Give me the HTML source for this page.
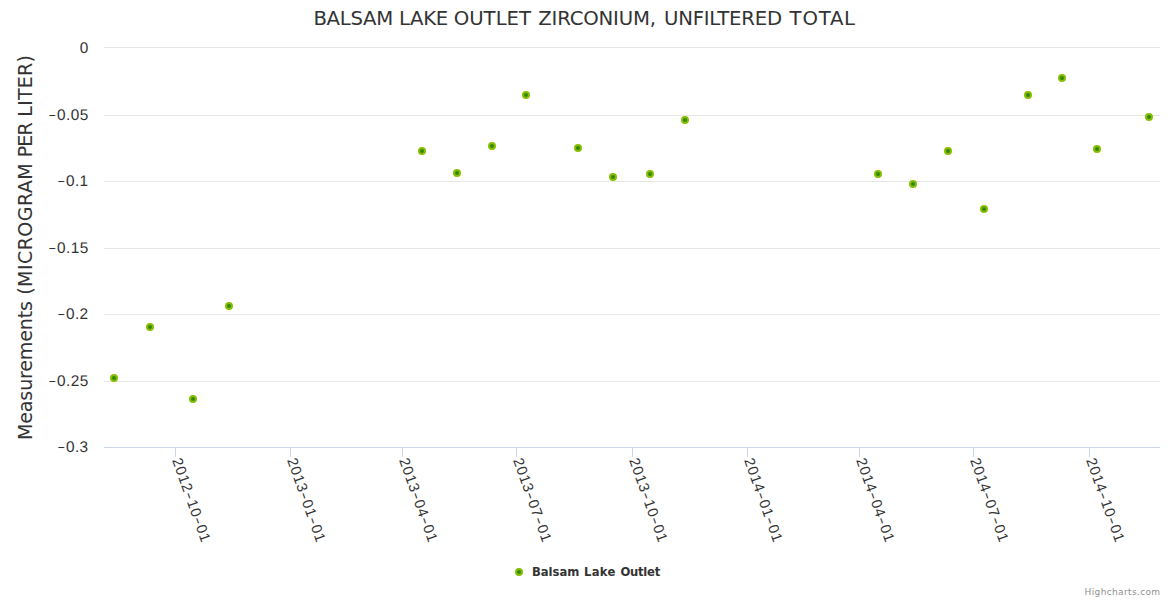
<!DOCTYPE html><html><head><meta charset="utf-8"><title>Balsam Lake Outlet Zirconium, Unfiltered Total</title><style>html,body{margin:0;padding:0;background:#fff;overflow:hidden}svg{display:block}</style></head><body>
<svg width="1170" height="600" viewBox="0 0 1170 600">
<rect x="0" y="0" width="1170" height="600" fill="#ffffff"/>
<g fill="none" stroke-width="1">
<path d="M104 47.5H1160" stroke="#e6e6e6"/>
<path d="M104 115.5H1160" stroke="#e6e6e6"/>
<path d="M104 181.5H1160" stroke="#e6e6e6"/>
<path d="M104 248.5H1160" stroke="#e6e6e6"/>
<path d="M104 314.5H1160" stroke="#e6e6e6"/>
<path d="M104 381.5H1160" stroke="#e6e6e6"/>
<path d="M104 447.5H1160" stroke="#ccd6eb"/>
<path d="M175.5 447V457" stroke="#ccd6eb"/>
<path d="M290.5 447V457" stroke="#ccd6eb"/>
<path d="M402.5 447V457" stroke="#ccd6eb"/>
<path d="M516.5 447V457" stroke="#ccd6eb"/>
<path d="M632.5 447V457" stroke="#ccd6eb"/>
<path d="M747.5 447V457" stroke="#ccd6eb"/>
<path d="M859.5 447V457" stroke="#ccd6eb"/>
<path d="M973.5 447V457" stroke="#ccd6eb"/>
<path d="M1089.5 447V457" stroke="#ccd6eb"/>
</g>
<text y="25" font-family='"DejaVu Sans", sans-serif' font-size="19.7" fill="#333333"><tspan x="313.4" textLength="79.77" lengthAdjust="spacing">BALSAM</tspan> <tspan x="398.9" textLength="49.35" lengthAdjust="spacing">LAKE</tspan> <tspan x="453.7" textLength="77.38" lengthAdjust="spacing">OUTLET</tspan> <tspan x="538.2" textLength="117.84" lengthAdjust="spacing">ZIRCONIUM,</tspan> <tspan x="664.0" textLength="118.08" lengthAdjust="spacing">UNFILTERED</tspan> <tspan x="789.6" textLength="65.47" lengthAdjust="spacing">TOTAL</tspan></text>
<text x="88.6" y="52.9" text-anchor="end" text-rendering="geometricPrecision" font-family='"Liberation Sans", sans-serif' font-size="15.4" letter-spacing="0.4" fill="#333333">0</text>
<text x="88.6" y="120" text-anchor="end" text-rendering="geometricPrecision" font-family='"Liberation Sans", sans-serif' font-size="15.4" letter-spacing="0.4" fill="#333333"><tspan font-size="13" dy="-1" textLength="8.8" lengthAdjust="spacingAndGlyphs">-</tspan><tspan dy="1">0.05</tspan></text>
<text x="88.6" y="186" text-anchor="end" text-rendering="geometricPrecision" font-family='"Liberation Sans", sans-serif' font-size="15.4" letter-spacing="0.4" fill="#333333"><tspan font-size="13" dy="-1" textLength="8.8" lengthAdjust="spacingAndGlyphs">-</tspan><tspan dy="1">0.1</tspan></text>
<text x="88.6" y="253" text-anchor="end" text-rendering="geometricPrecision" font-family='"Liberation Sans", sans-serif' font-size="15.4" letter-spacing="0.4" fill="#333333"><tspan font-size="13" dy="-1" textLength="8.8" lengthAdjust="spacingAndGlyphs">-</tspan><tspan dy="1">0.15</tspan></text>
<text x="88.6" y="319" text-anchor="end" text-rendering="geometricPrecision" font-family='"Liberation Sans", sans-serif' font-size="15.4" letter-spacing="0.4" fill="#333333"><tspan font-size="13" dy="-1" textLength="8.8" lengthAdjust="spacingAndGlyphs">-</tspan><tspan dy="1">0.2</tspan></text>
<text x="88.6" y="386" text-anchor="end" text-rendering="geometricPrecision" font-family='"Liberation Sans", sans-serif' font-size="15.4" letter-spacing="0.4" fill="#333333"><tspan font-size="13" dy="-1" textLength="8.8" lengthAdjust="spacingAndGlyphs">-</tspan><tspan dy="1">0.25</tspan></text>
<text x="88.6" y="452" text-anchor="end" text-rendering="geometricPrecision" font-family='"Liberation Sans", sans-serif' font-size="15.4" letter-spacing="0.4" fill="#333333"><tspan font-size="13" dy="-1" textLength="8.8" lengthAdjust="spacingAndGlyphs">-</tspan><tspan dy="1">0.3</tspan></text>
<text transform="rotate(-90)" y="31.8" font-family='"DejaVu Sans", sans-serif' font-size="19.1" fill="#333333"><tspan x="-440" textLength="139.03" lengthAdjust="spacing">Measurements</tspan> <tspan x="-294.7" textLength="131.42" lengthAdjust="spacing">(MICROGRAM</tspan> <tspan x="-157.3" textLength="35.16" lengthAdjust="spacing">PER</tspan> <tspan x="-116.7" textLength="61.72" lengthAdjust="spacing">LITER)</tspan></text>
<text transform="translate(172 460) rotate(70.5)" font-family='"Liberation Sans", sans-serif' font-size="14.6" letter-spacing="0.85" fill="#333333">2012<tspan textLength="8.5" lengthAdjust="spacingAndGlyphs">-</tspan>10<tspan textLength="8.5" lengthAdjust="spacingAndGlyphs">-</tspan>01</text>
<text transform="translate(287 460) rotate(70.5)" font-family='"Liberation Sans", sans-serif' font-size="14.6" letter-spacing="0.85" fill="#333333">2013<tspan textLength="8.5" lengthAdjust="spacingAndGlyphs">-</tspan>01<tspan textLength="8.5" lengthAdjust="spacingAndGlyphs">-</tspan>01</text>
<text transform="translate(399 460) rotate(70.5)" font-family='"Liberation Sans", sans-serif' font-size="14.6" letter-spacing="0.85" fill="#333333">2013<tspan textLength="8.5" lengthAdjust="spacingAndGlyphs">-</tspan>04<tspan textLength="8.5" lengthAdjust="spacingAndGlyphs">-</tspan>01</text>
<text transform="translate(513 460) rotate(70.5)" font-family='"Liberation Sans", sans-serif' font-size="14.6" letter-spacing="0.85" fill="#333333">2013<tspan textLength="8.5" lengthAdjust="spacingAndGlyphs">-</tspan>07<tspan textLength="8.5" lengthAdjust="spacingAndGlyphs">-</tspan>01</text>
<text transform="translate(629 460) rotate(70.5)" font-family='"Liberation Sans", sans-serif' font-size="14.6" letter-spacing="0.85" fill="#333333">2013<tspan textLength="8.5" lengthAdjust="spacingAndGlyphs">-</tspan>10<tspan textLength="8.5" lengthAdjust="spacingAndGlyphs">-</tspan>01</text>
<text transform="translate(744 460) rotate(70.5)" font-family='"Liberation Sans", sans-serif' font-size="14.6" letter-spacing="0.85" fill="#333333">2014<tspan textLength="8.5" lengthAdjust="spacingAndGlyphs">-</tspan>01<tspan textLength="8.5" lengthAdjust="spacingAndGlyphs">-</tspan>01</text>
<text transform="translate(856 460) rotate(70.5)" font-family='"Liberation Sans", sans-serif' font-size="14.6" letter-spacing="0.85" fill="#333333">2014<tspan textLength="8.5" lengthAdjust="spacingAndGlyphs">-</tspan>04<tspan textLength="8.5" lengthAdjust="spacingAndGlyphs">-</tspan>01</text>
<text transform="translate(970 460) rotate(70.5)" font-family='"Liberation Sans", sans-serif' font-size="14.6" letter-spacing="0.85" fill="#333333">2014<tspan textLength="8.5" lengthAdjust="spacingAndGlyphs">-</tspan>07<tspan textLength="8.5" lengthAdjust="spacingAndGlyphs">-</tspan>01</text>
<text transform="translate(1086 460) rotate(70.5)" font-family='"Liberation Sans", sans-serif' font-size="14.6" letter-spacing="0.85" fill="#333333">2014<tspan textLength="8.5" lengthAdjust="spacingAndGlyphs">-</tspan>10<tspan textLength="8.5" lengthAdjust="spacingAndGlyphs">-</tspan>01</text>
<g fill="#2f8a0c" stroke="#88bd00" stroke-width="2">
<circle cx="114" cy="378" r="3"/>
<circle cx="150" cy="327" r="3"/>
<circle cx="193" cy="399" r="3"/>
<circle cx="229" cy="306" r="3"/>
<circle cx="422" cy="151" r="3"/>
<circle cx="457" cy="173" r="3"/>
<circle cx="492" cy="146" r="3"/>
<circle cx="526" cy="95" r="3"/>
<circle cx="578" cy="148" r="3"/>
<circle cx="613" cy="177" r="3"/>
<circle cx="650" cy="174" r="3"/>
<circle cx="685" cy="120" r="3"/>
<circle cx="878" cy="174" r="3"/>
<circle cx="913" cy="184" r="3"/>
<circle cx="948" cy="151" r="3"/>
<circle cx="984" cy="209" r="3"/>
<circle cx="1028" cy="95" r="3"/>
<circle cx="1062" cy="78" r="3"/>
<circle cx="1097" cy="149" r="3"/>
<circle cx="1149" cy="117" r="3"/>
<circle cx="519" cy="572" r="3"/>
</g>
<text y="576" font-family='"DejaVu Sans", sans-serif' font-size="11.6" font-weight="bold" fill="#333333"><tspan x="532" textLength="47.35" lengthAdjust="spacing">Balsam</tspan> <tspan x="584.1" textLength="31.18" lengthAdjust="spacing">Lake</tspan> <tspan x="620.5" textLength="39.73" lengthAdjust="spacing">Outlet</tspan></text>
<text x="1160.5" y="595" text-anchor="end" font-family='"DejaVu Sans", sans-serif' font-size="9" letter-spacing="0.36" fill="#909090">Highcharts.com</text>
</svg></body></html>
